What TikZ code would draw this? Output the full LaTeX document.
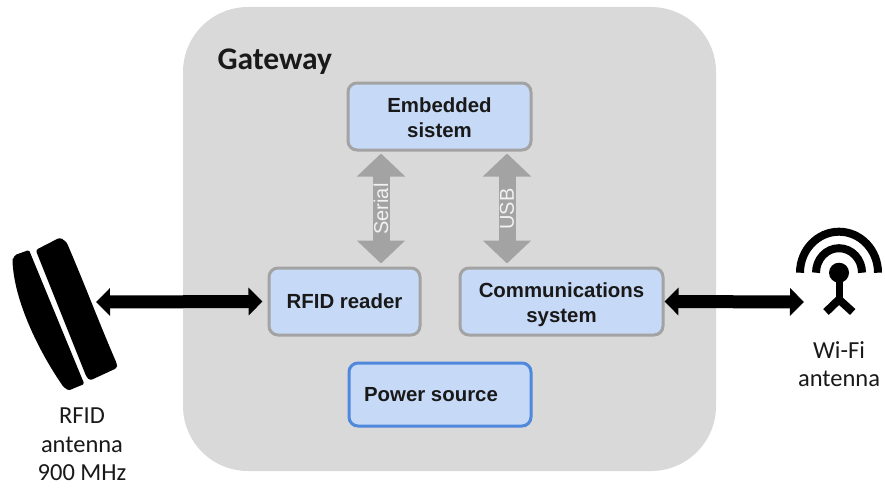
\documentclass[tikz,border=0pt]{standalone}
\usepackage{fontspec}
\setmainfont{Liberation Sans}
\newfontfamily\calfont{Carlito}
\usetikzlibrary{arrows.meta,calc}
\definecolor{gw}{HTML}{D9D9D9}
\definecolor{boxfill}{HTML}{C6D9F6}
\definecolor{boxline}{HTML}{A3A3A3}
\definecolor{pwrline}{HTML}{4F88DC}
\tikzset{
  x=1pt,y=-1pt,
  blockbox/.style={draw=boxline,line width=3pt,fill=boxfill,rounded corners=9pt,inner sep=0pt,
    align=center,font=\fontsize{20.4}{25}\selectfont\bfseries,text=black!90},
  graylink/.style={{Triangle[length=23pt,width=47pt]}-{Triangle[length=23pt,width=47pt]},line width=17pt,draw=boxline,shorten <=2pt,shorten >=3pt},
  blacklink/.style={{Triangle[length=14pt,width=27pt]}-{Triangle[length=14pt,width=27pt]},line width=13pt,draw=black},
  caption/.style={align=center,font=\calfont\fontsize{24.5}{28.5}\selectfont,text=black!90},
  busname/.style={rotate=90,font=\fontsize{20}{22}\selectfont,text=white!95!black},
}
\begin{document}
\begin{tikzpicture}
\useasboundingbox (0,0) rectangle (885,487);
\fill[gw,rounded corners=65pt] (183,7) rectangle (716,471);
\node[anchor=west,font=\calfont\fontsize{31.5}{34}\selectfont\bfseries,text=black!90] (gwname) at (214,62) {Gateway};
\node[blockbox,minimum width=183pt,minimum height=67pt] (emb) at (439.5,116.5) {\rule{0pt}{17pt}Embedded\\sistem};
\node[blockbox,minimum width=151pt,minimum height=67pt] (rfid) at (344.5,301.5) {RFID reader};
\node[blockbox,minimum width=203pt,minimum height=67pt] (comm) at (561.5,301.5) {\rule{0pt}{21pt}Communications\\system};
\node[blockbox,draw=pwrline,minimum width=182pt,minimum height=63pt] (pwr) at (440,394.5) {Power source\kern18pt};
\draw[graylink] ([xshift=-58.5pt]emb.south) -- ([xshift=36.5pt]rfid.north) node[midway,busname] (ser) {Serial};
\draw[graylink] ([xshift=67.5pt]emb.south) -- ([xshift=-54.5pt]comm.north) node[midway,busname] (usb) {USB};
% RFID antenna
\fill[black,rounded corners=2.5pt] (35.7,250) -- (60,237.5) -- (66.5,242) .. controls (85,285) and (100,325) .. (117,364) -- (117,368) -- (90,380.5) -- (86.5,377) -- cycle;
\fill[black,rounded corners=1.5pt] (12.5,260) -- (15,255) -- (29,250) -- (84.3,384) -- (68.5,390.5) -- (63.3,386.7) .. controls (38,350) and (14,300) .. (12.5,260) -- cycle;
\coordinate (rant) at (96,302);
% Wi-Fi antenna
\coordinate (wcen) at (839,272.7);
\draw[black,line width=8pt] (800,272.7) arc[start angle=180,end angle=0,x radius=39pt,y radius=41pt];
\draw[black,line width=8pt] (816,272.7) arc[start angle=180,end angle=0,x radius=23pt,y radius=24.5pt];
\fill[black] (wcen) circle[radius=10pt];
\draw[black,line width=7pt] (wcen) -- (839,300);
\draw[black,line width=8pt] (826,312) -- (839,299.5) -- (852.7,312);
\coordinate (want) at (804,302);
\draw[blacklink,shorten >=5pt] (rant) -- (rfid.west);
\draw[blacklink] (comm.east) -- (want);
\node[caption] (rlabel) at (82,444.5) {RFID\\antenna\\900 MHz};
\node[caption] (wlabel) at (839,364) {Wi-Fi\\antenna};
\end{tikzpicture}
\end{document}
